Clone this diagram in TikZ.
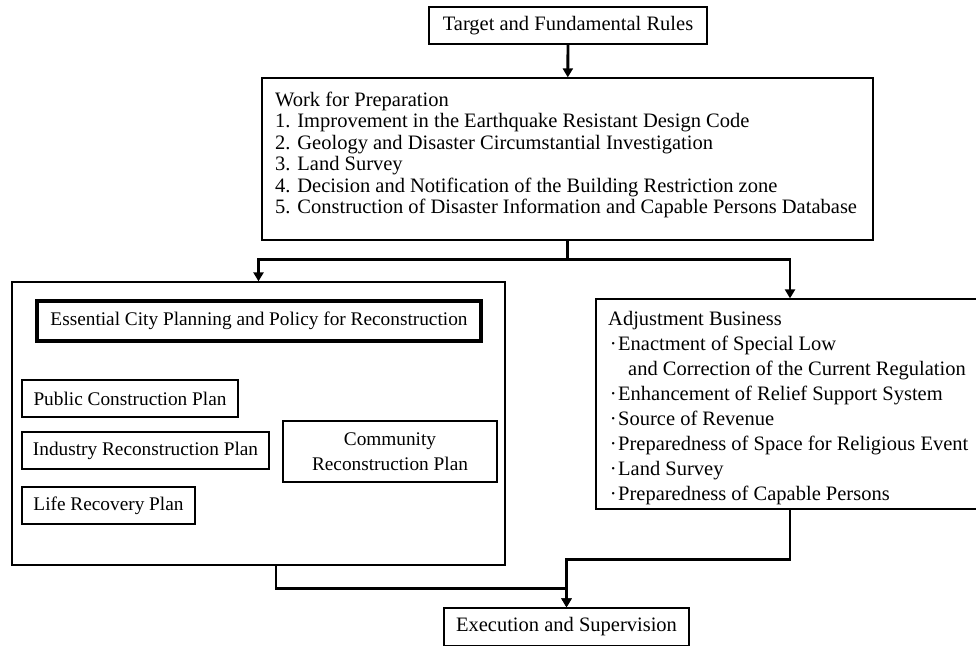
\documentclass[tikz,border=0pt]{standalone}
\usepackage{fontspec}
\setmainfont{Liberation Serif}
\usetikzlibrary{arrows.meta}
\newcommand\bul{\makebox[10pt][c]{\textperiodcentered}}
\begin{document}
\begin{tikzpicture}[x=1pt,y=-1pt,
  box/.style={draw,line width=1.3pt,inner sep=0pt,align=center,
    font=\fontsize{20.5}{24}\selectfont},
  plan/.style={box,font=\fontsize{19.3}{25}\selectfont},
  conn/.style={line width=2.8pt,-{Triangle[width=10pt,length=9pt]}},
  wire/.style={line width=2.8pt},
  txt/.style={inner sep=0pt,anchor=north west,align=left}]
\useasboundingbox (0,0) rectangle (976,645);
\clip (0,0) rectangle (976,645);

\node[box,minimum width=278pt,minimum height=37pt] (top) at (568,25.5) {Target and Fundamental Rules};
\node[box,minimum width=611pt,minimum height=162pt] (work) at (567.5,159) {};
\node[txt,font=\fontsize{20.5}{21.5}\selectfont] (worktext) at (275,91.7) {Work for Preparation\\
1. Improvement in the Earthquake Resistant Design Code\\
2. Geology and Disaster Circumstantial Investigation\\
3. Land Survey\\
4. Decision and Notification of the Building Restriction zone\\
5. Construction of Disaster Information and Capable Persons Database};

\node[box,minimum width=493pt,minimum height=283pt] (leftbox) at (258.5,423.5) {};
\node[plan,line width=3.5pt,minimum width=444pt,minimum height=40pt] (ess) at (259,321) {Essential City Planning and Policy for Reconstruction};
\node[plan,minimum width=216pt,minimum height=37pt] (pub) at (130,398.5) {Public Construction Plan};
\node[plan,minimum width=247pt,minimum height=37pt] (ind) at (145.5,450.5) {Industry Reconstruction Plan};
\node[plan,minimum width=173pt,minimum height=37pt] (life) at (108.5,505.5) {Life Recovery Plan};
\node[plan,minimum width=214pt,minimum height=61pt] (comm) at (390,451.5) {Community\\Reconstruction Plan};

\node[box,minimum width=388pt,minimum height=210pt] (adj) at (790,404) {};
\node[txt,font=\fontsize{20.5}{25}\selectfont] (adjtext) at (608,311) {Adjustment Business\\
\bul Enactment of Special Low\\
\hspace*{20pt}and Correction of the Current Regulation\\
\bul Enhancement of Relief Support System\\
\bul Source of Revenue\\
\bul Preparedness of Space for Religious Event\\
\bul Land Survey\\
\bul Preparedness of Capable Persons};

\node[box,minimum width=245pt,minimum height=38pt] (exec) at (566.5,627) {Execution and Supervision};

\draw[conn] (top) -- (work);
\draw[wire] (work.south) -- ++(0,19) coordinate (split);
\draw[conn] (split) -| (leftbox.north);
\draw[conn] (split) -| (adj.north);
\draw[conn] ([xshift=17.5pt]leftbox.south) -- ++(0,23) -| (exec.north);
\draw[conn] (adj.south) -- ++(0,50) -| (exec.north);
\end{tikzpicture}
\end{document}
